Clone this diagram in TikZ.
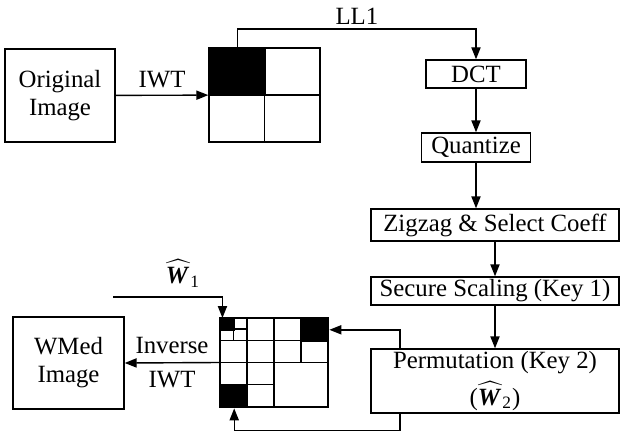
\documentclass[tikz,border=0pt]{standalone}
\usepackage{amsmath}
\usepackage{fontspec}
\setmainfont{Liberation Serif}
\usetikzlibrary{arrows.meta}

\begin{document}
\begin{tikzpicture}[x=0.5pt, y=-0.5pt, line width=0.7pt, every node/.style={font=\fontsize{12.4}{14}\selectfont}, >={Triangle[length=6pt,width=4.6pt]}, box/.style={draw, inner sep=0pt, align=center}, blk/.style={draw, fill=black, inner sep=0pt, anchor=north west}]
	\useasboundingbox (0,0) rectangle (620,433);
	% left column
	\node[box, minimum width=55pt, minimum height=46.5pt] (orig) at (60,95.5) {Original\\Image};
	\node[box, minimum width=55.5pt, minimum height=46pt] (wmed) at (68.5,363) {WMed\\Image};
	% first decomposition
	\node[blk, minimum width=28pt, minimum height=23.5pt] (ll1) at (209,48) {};
	\node[box, minimum width=55.5pt, minimum height=47pt] (grid1) at (264.5,95) {};
	\draw (264.5,48) -- (264.5,142); \draw (209,95) -- (320,95);
	% processing chain
	\node[box, minimum width=50pt, minimum height=14pt] (dct) at (476,74) {DCT};
	\node[box, minimum width=54.5pt, minimum height=14.5pt] (quant) at (476,147.5) {Quantize};
	\node[box, minimum width=124pt, minimum height=16pt] (zig) at (495,225) {Zigzag \& Select Coeff};
	\node[box, minimum width=124pt, minimum height=14pt] (scal) at (495,291) {Secure Scaling (Key 1)};
	\node[box, minimum width=124pt, minimum height=32pt] (perm) at (495,381) {Permutation (Key 2)\\[2.5pt](${\widehat{\textbf{\textit{W}}\kern0.5pt}}_{\text{2}}$)};
	% embedded sub-bands
	\node[blk, minimum width=6.75pt, minimum height=5.55pt] (tl) at (220,318) {};
	\node[blk, minimum width=13.5pt, minimum height=11.1pt] (tr) at (301,318) {};
	\node[blk, minimum width=13.5pt, minimum height=11.1pt] (bl) at (220,384.75) {};
	\node[box, minimum width=54pt, minimum height=44.5pt] (grid2) at (274,362.5) {};
	\draw (247,318) -- (247,407); \draw (274,318) -- (274,407); \draw (301,318) -- (301,362.5);
	\draw (220,340.25) -- (328,340.25); \draw (220,362.5) -- (328,362.5); \draw (220,384.75) -- (274,384.75);
	\draw (233.5,318) -- (233.5,340.25); \draw (220,329.1) -- (247,329.1);
	% connectors
	\draw[->] (orig) -- node[above] {IWT} (grid1);
	\draw[->] (ll1.north) -- ++(0,-19) -| node[above, pos=0.25, inner sep=2pt] {LL1} (dct.north);
	\draw[->] (dct) -- (quant);
	\draw[->] (quant.south) -- (quant.south |- zig.north);
	\draw[->] (zig) -- (scal);
	\draw[->] (scal) -- (scal.south |- perm.north);
	\coordinate (w1) at (113,297);
	\draw[->] (w1) -| node[above, pos=0.32, inner sep=4.5pt] {$\widehat{\textbf{\textit{W}}\kern0.5pt}_{\text{1}}$} ([xshift=-2.5pt]tl.north);
	\draw[->] ([xshift=-47.5pt]perm.north) |- (tr.east);
	\draw[->] ([xshift=-47.5pt]perm.south) -- ++(0,17) -| (bl.south);
	\draw[->] (grid2.west) -- node[above, inner sep=4pt] {Inverse} node[below, inner sep=4pt] {IWT} (wmed.east);
\end{tikzpicture}
\end{document}
